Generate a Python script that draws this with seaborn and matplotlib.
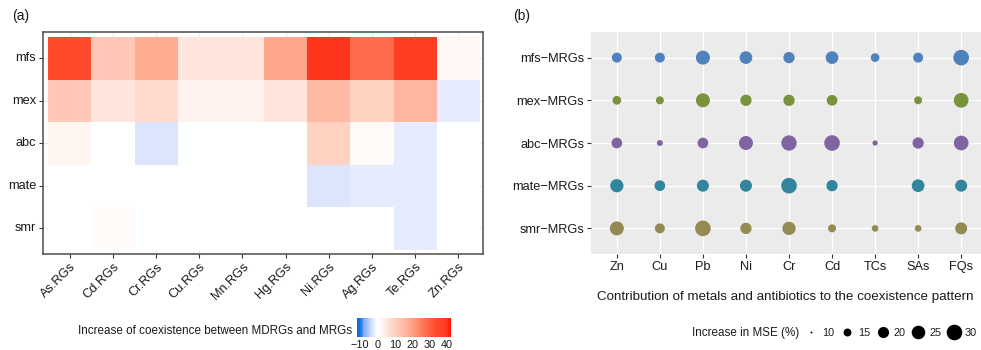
import numpy as np
import pandas as pd
import matplotlib
matplotlib.use("Agg")
import matplotlib.pyplot as plt
import seaborn as sns
from matplotlib.colors import LinearSegmentedColormap
from matplotlib.lines import Line2D

# ---------------- data: panel (a) ----------------
metal_rgs = ["As.RGs", "Cd.RGs", "Cr.RGs", "Cu.RGs", "Mn.RGs",
             "Hg.RGs", "Ni.RGs", "Ag.RGs", "Te.RGs", "Zn.RGs"]
families = ["mfs", "mex", "abc", "mate", "smr"]
coex_mfs = [34, 12, 18, 6, 6, 19, 40, 28, 38, 2]
coex_mex = [12, 6, 8, 3, 3, 6, 15, 10, 16, -2]
coex_abc = [2.5, 0, -3, 0, 0, 0, 10, 1.5, -2, 0]
coex_mate = [0, 0, 0, 0, 0, 0, -3, -2, -2, 0]
coex_smr = [0, 1, 0, 0, 0, 0, 0, 0, -2, 0]
cbar_ticks = [-10, 0, 10, 20, 30, 40]

# ---------------- data: panel (b) ----------------
drivers = ["Zn", "Cu", "Pb", "Ni", "Cr", "Cd", "TCs", "SAs", "FQs"]
mrg_groups = ["mfs\u2212MRGs", "mex\u2212MRGs", "abc\u2212MRGs", "mate\u2212MRGs", "smr\u2212MRGs"]
mse_mfs = [18.0, 18.0, 26.0, 23.1, 20.3, 23.1, 16.0, 18.0, 31.0]
mse_mex = [16.0, 15.0, 26.0, 20.3, 20.3, 19.2, np.nan, 15.0, 27.7]
mse_abc = [19.2, 12.7, 19.2, 26.0, 29.2, 31.0, 12.0, 20.3, 27.7]
mse_mate = [24.4, 19.2, 21.7, 21.7, 31.0, 20.3, np.nan, 23.1, 21.7]
mse_smr = [26.0, 18.0, 34.6, 20.3, 24.4, 15.0, 13.4, 13.4, 21.7]
group_colors = ["#4F81BD", "#77933C", "#8064A2", "#31859C", "#948A54"]
legend_mse = [10, 15, 20, 25, 30]

# ---------------- style ----------------
sns.set_style("white")
plt.rcParams["font.family"] = ["Liberation Sans", "DejaVu Sans"]
TXT = "#1A1A1A"

W, H = 981, 350
fig = plt.figure(figsize=(W / 100, H / 100), dpi=100)


def box(x0, y0, x1, y1):
    return [x0 / W, 1 - y1 / H, (x1 - x0) / W, (y1 - y0) / H]


# ---------------- panel (a) heatmap ----------------
vmin, vmax = -11.7, 42.3
stops = [(-11.7, "#0066D6"), (-9.2, "#2A82E6"), (-8.2, "#78A5F0"),
         (-5, "#B4CBF7"), (-3, "#DCE5FC"), (0, "#FFFFFF"), (3, "#FFF3EE"),
         (6, "#FFE4DB"), (10, "#FFD0C0"), (15, "#FFBAA4"), (20, "#FFA286"),
         (27, "#FF7253"), (34, "#FF4B2B"), (40, "#FF3820"), (42.3, "#FF0A00")]
cmap = LinearSegmentedColormap.from_list(
    "coex", [((v - vmin) / (vmax - vmin), c) for v, c in stops])

dfa = pd.DataFrame([coex_mfs, coex_mex, coex_abc, coex_mate, coex_smr],
                   index=families, columns=metal_rgs)

axA = fig.add_axes(box(43, 32, 483, 254))
cax = fig.add_axes(box(357, 318, 451, 337))
sns.heatmap(dfa, ax=axA, cmap=cmap, vmin=vmin, vmax=vmax, cbar_ax=cax,
            cbar_kws={"orientation": "horizontal", "ticks": cbar_ticks})
axA.set_xlim(-0.12, 10.07)
axA.set_ylim(5.1, -0.12)
axA.set_axisbelow(True)
axA.grid(True, color="#EBEBEB", lw=0.8)
for s in axA.spines.values():
    s.set_visible(True)
    s.set_color("#4D4D4D")
    s.set_linewidth(1.1)
axA.set_xlabel("")
axA.set_ylabel("")
axA.tick_params(axis="both", which="both", direction="out", length=3,
                width=0.8, color="#333333", labelsize=9.2, labelcolor=TXT,
                bottom=True, left=True, pad=2)
axA.set_yticklabels(families, rotation=0, va="center")
axA.set_xticklabels(metal_rgs, rotation=45, ha="right", va="top",
                    rotation_mode="anchor")

cbar = axA.collections[0].colorbar
cbar.outline.set_visible(False)
cax.tick_params(axis="x", direction="in", length=4, width=0.8, color="white",
                top=True, bottom=True, labelsize=7.8, labelcolor=TXT, pad=2)
fig.text(352 / W, 1 - 331 / H, "Increase of coexistence between MDRGs and MRGs",
         ha="right", va="center", fontsize=8.4, color=TXT)

# ---------------- panel (b) bubbles ----------------
vals_by_group = dict(zip(mrg_groups, [mse_mfs, mse_mex, mse_abc, mse_mate, mse_smr]))
records = []
for g in mrg_groups[::-1]:
    for d, v in zip(drivers, vals_by_group[g]):
        records.append({"driver": d, "group": g, "mse": v})
dfb = pd.DataFrame(records).dropna()

k = 6.22
size_rng = (k * (legend_mse[0] - 9.7), k * (legend_mse[-1] - 9.7))

axB = fig.add_axes(box(591, 32, 987, 254))
axB.set_facecolor("#EBEBEB")
sns.scatterplot(data=dfb, x="driver", y="group", hue="group",
                palette=dict(zip(mrg_groups, group_colors)),
                size="mse", sizes=size_rng, size_norm=(legend_mse[0], legend_mse[-1]),
                linewidth=0, edgecolor="none", alpha=1, legend=False, ax=axB)
axB.set_xlim(-0.6, len(drivers) - 0.4)
axB.set_ylim(-0.6, len(mrg_groups) - 0.4)
axB.set_axisbelow(True)
axB.grid(True, color="white", lw=0.9)
for s in axB.spines.values():
    s.set_visible(False)
axB.tick_params(axis="both", direction="out", length=3, width=0.8,
                color="#333333", labelsize=9.2, labelcolor=TXT, pad=2,
                bottom=True, left=True)
axB.set_ylabel("")
axB.set_xlabel("")
fig.text(785 / W, 1 - 297 / H,
         "Contribution of metals and antibiotics to the coexistence pattern",
         ha="center", va="center", fontsize=9.6, color=TXT)

handles = [Line2D([], [], marker="o", linestyle="", color="black",
                  markeredgewidth=0,
                  markersize=np.sqrt(size_rng[0] + (v - legend_mse[0]) /
                                     (legend_mse[-1] - legend_mse[0]) *
                                     (size_rng[1] - size_rng[0])))
           for v in legend_mse]
fig.legend(handles, [str(v) for v in legend_mse], ncol=5, loc="center left",
           bbox_to_anchor=(803 / W, 1 - 333 / H), frameon=False, fontsize=7.8,
           handletextpad=0.3, columnspacing=0.37, handlelength=1.5,
           borderpad=0, borderaxespad=0, labelcolor=TXT)
fig.text(692 / W, 1 - 333 / H, "Increase in MSE (%)", ha="left", va="center",
         fontsize=8.4, color=TXT)

fig.text(12 / W, 1 - 16 / H, "(a)", ha="left", va="center", fontsize=10, color=TXT)
fig.text(513 / W, 1 - 16 / H, "(b)", ha="left", va="center", fontsize=10, color=TXT)

fig.savefig("out.png", dpi=100)
